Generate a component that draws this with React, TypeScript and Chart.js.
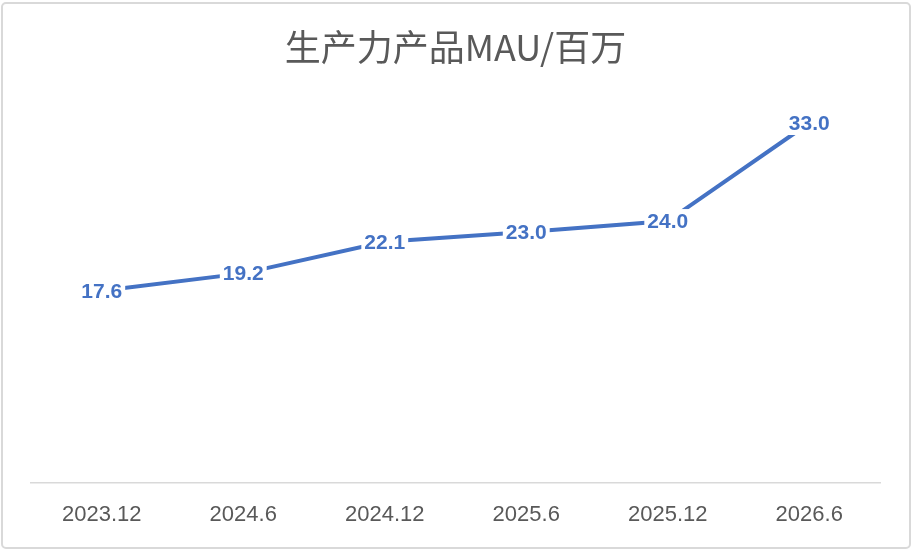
import { useEffect, useRef } from 'react';
import { Chart, registerables } from 'chart.js';

Chart.register(...registerables);

// data
const categories = ['2023.12', '2024.6', '2024.12', '2025.6', '2025.12', '2026.6'];
const mauValues = [17.6, 19.2, 22.1, 23.0, 24.0, 33.0];
const titleText = '生产力产品MAU/百万';

const BLUE = '#4472C4';
const GREY = '#595959';

// centred value labels on a white box, like Excel's "center" data labels
const valueLabels = {
  id: 'valueLabels',
  afterDatasetsDraw(chart: Chart) {
    const { ctx } = chart;
    const meta = chart.getDatasetMeta(0);
    ctx.save();
    ctx.font = 'bold 21px "Liberation Sans", Arial, sans-serif';
    ctx.textAlign = 'center';
    ctx.textBaseline = 'middle';
    meta.data.forEach((pt, i) => {
      const text = mauValues[i].toFixed(1);
      const w = ctx.measureText(text).width;
      ctx.fillStyle = '#ffffff';
      ctx.fillRect(pt.x - w / 2 - 3, pt.y - 12, w + 6, 24);
      ctx.fillStyle = BLUE;
      ctx.fillText(text, pt.x, pt.y + 1);
    });
    ctx.restore();
  },
};

// thin grey frame round the whole picture
const frame = {
  id: 'frame',
  afterDraw(chart: Chart) {
    const { ctx, width, height } = chart;
    ctx.save();
    ctx.strokeStyle = '#d9d9d9';
    ctx.lineWidth = 2;
    ctx.beginPath();
    ctx.roundRect(2, 3, width - 4, height - 5, 4);
    ctx.stroke();
    ctx.restore();
  },
};

export default function App() {
  const chartRef = useRef<HTMLCanvasElement>(null);

  useEffect(() => {
    document.body.style.margin = '0';
    if (!chartRef.current) return;

    const chart = new Chart(chartRef.current, {
      type: 'line',
      data: {
        labels: categories,
        datasets: [
          {
            label: 'MAU',
            data: mauValues,
            borderColor: BLUE,
            backgroundColor: BLUE,
            borderWidth: 4,
            pointRadius: 0,
            tension: 0,
          },
        ],
      },
      options: {
        responsive: false,
        animation: false,
        layout: { padding: { left: 31, right: 32, top: 0, bottom: 3 } },
        plugins: {
          legend: { display: false },
          tooltip: { enabled: false },
          title: {
            display: true,
            text: titleText,
            color: GREY,
            font: { family: '"Noto Sans CJK SC", sans-serif', size: 36, weight: 'normal' },
            padding: { top: 26, bottom: 32 },
          },
        },
        scales: {
          x: {
            offset: true,
            grid: { display: false, drawTicks: false },
            border: { display: true, color: '#d9d9d9', width: 1.5 },
            ticks: {
              color: GREY,
              padding: 19,
              font: { family: '"Liberation Sans", Arial, sans-serif', size: 22 },
            },
          },
          y: {
            display: false,
            min: 0,
            max: 35,
          },
        },
      },
      plugins: [valueLabels, frame],
    });

    return () => chart.destroy();
  }, []);

  return <canvas ref={chartRef} width={912} height={550} />;
}
